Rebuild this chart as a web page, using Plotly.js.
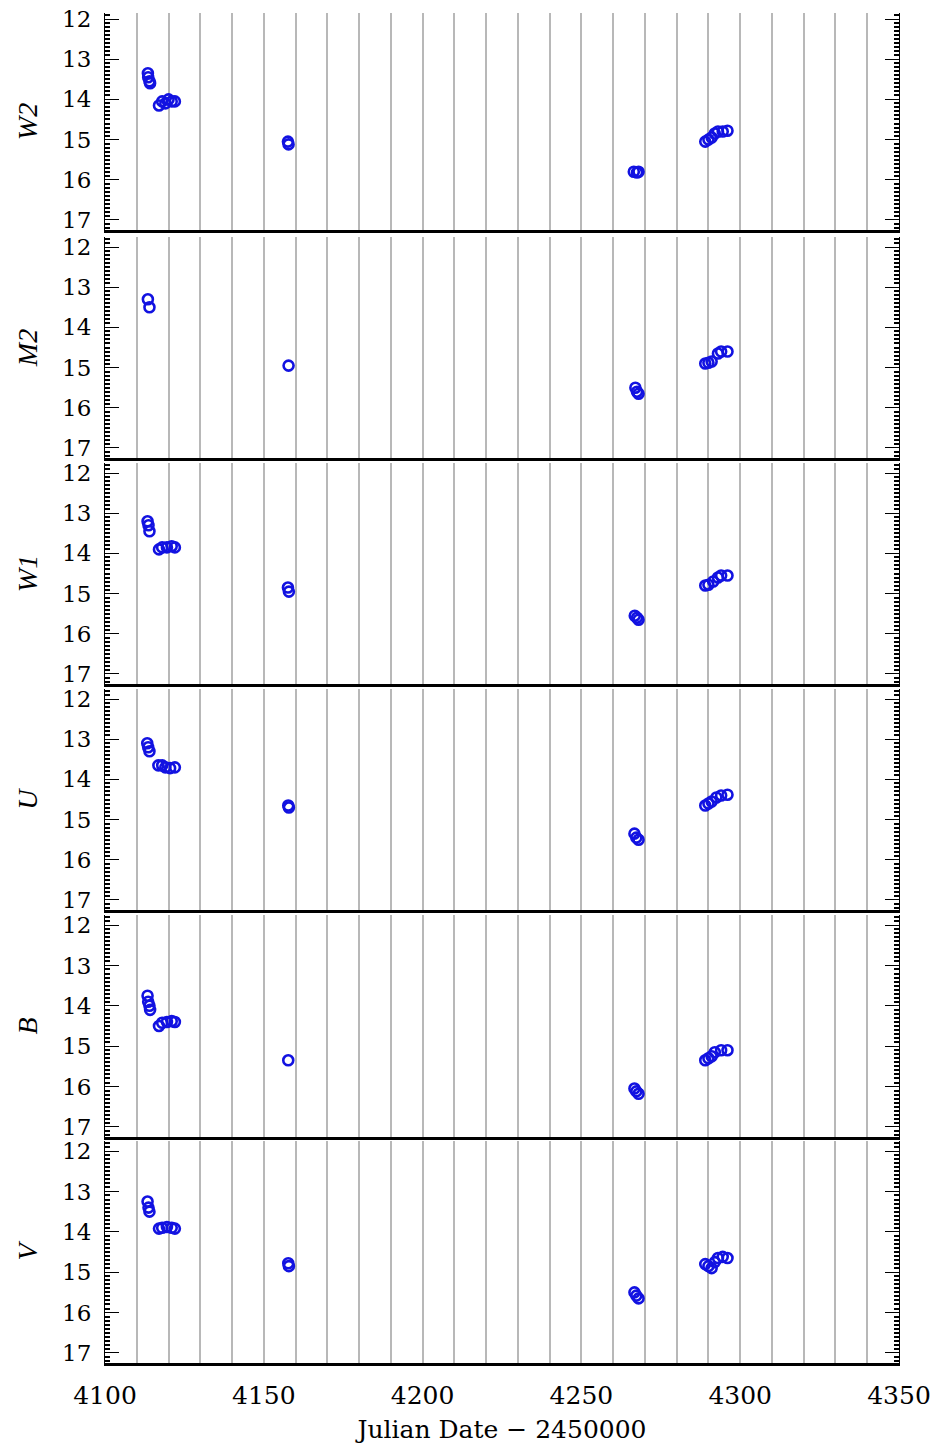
<!DOCTYPE html>
<html>
<head>
<meta charset="utf-8">
<script src="https://cdn.plot.ly/plotly-3.0.1.min.js"></script>
<style>html,body{margin:0;padding:0;background:#fff;}#chart{width:936px;height:1448px;}</style>
</head>
<body>
<div id="chart"></div>
<script>
// ---- data (Julian Date - 2450000, magnitude) ----
const bands = ["W2", "M2", "W1", "U", "B", "V"];

const w2_jd  = [4113.5, 4113.6, 4114.0, 4114.2, 4117.0, 4118.0, 4119.0, 4120.0, 4121.0, 4122.0, 4157.6, 4157.8, 4266.5, 4267.5, 4268.0, 4289.0, 4290.0, 4291.0, 4292.0, 4293.0, 4294.5, 4296.0];
const w2_mag = [13.35, 13.45, 13.55, 13.6, 14.15, 14.05, 14.1, 14.0, 14.05, 14.05, 15.05, 15.12, 15.8, 15.82, 15.8, 15.05, 15.0, 14.95, 14.85, 14.8, 14.8, 14.78];

const m2_jd  = [4113.5, 4114.0, 4157.8, 4267.0, 4267.5, 4268.0, 4289.0, 4290.0, 4291.0, 4293.0, 4294.0, 4296.0];
const m2_mag = [13.3, 13.5, 14.95, 15.5, 15.6, 15.65, 14.9, 14.88, 14.85, 14.65, 14.6, 14.6];

const w1_jd  = [4113.4, 4113.7, 4114.0, 4117.0, 4118.0, 4119.5, 4121.0, 4122.0, 4157.6, 4157.9, 4266.8, 4267.5, 4268.0, 4289.0, 4290.0, 4291.5, 4293.0, 4294.0, 4296.0];
const w1_mag = [13.2, 13.3, 13.45, 13.9, 13.85, 13.85, 13.82, 13.85, 14.85, 14.95, 15.55, 15.6, 15.65, 14.8, 14.78, 14.7, 14.6, 14.55, 14.55];

const u_jd   = [4113.3, 4113.6, 4114.0, 4116.8, 4118.0, 4119.0, 4120.5, 4122.0, 4157.7, 4157.9, 4266.7, 4267.3, 4268.0, 4289.0, 4290.0, 4291.0, 4292.5, 4294.0, 4296.0];
const u_mag  = [13.1, 13.2, 13.3, 13.65, 13.65, 13.7, 13.72, 13.7, 14.65, 14.7, 15.35, 15.45, 15.5, 14.65, 14.6, 14.55, 14.45, 14.4, 14.38];

const b_jd   = [4113.4, 4113.6, 4114.0, 4114.2, 4117.0, 4118.0, 4119.5, 4121.0, 4122.0, 4157.7, 4266.7, 4267.3, 4268.0, 4289.0, 4290.0, 4291.0, 4292.0, 4294.0, 4296.0];
const b_mag  = [13.75, 13.9, 14.0, 14.1, 14.5, 14.42, 14.4, 14.38, 14.4, 15.35, 16.05, 16.12, 16.18, 15.35, 15.3, 15.25, 15.15, 15.1, 15.1];

const v_jd   = [4113.4, 4113.7, 4114.0, 4117.0, 4118.0, 4119.5, 4121.0, 4122.0, 4157.7, 4157.9, 4266.7, 4267.3, 4268.0, 4289.0, 4290.0, 4291.0, 4292.0, 4293.0, 4294.5, 4296.0];
const v_mag  = [13.25, 13.4, 13.5, 13.92, 13.9, 13.88, 13.9, 13.92, 14.78, 14.85, 15.5, 15.58, 15.65, 14.8, 14.85, 14.9, 14.75, 14.65, 14.62, 14.65];

const xTickVals = [4100, 4150, 4200, 4250, 4300, 4350];
const xTitle = "Julian Date \u2212 2450000";

const seriesJD  = [w2_jd, m2_jd, w1_jd, u_jd, b_jd, v_jd];
const seriesMag = [w2_mag, m2_mag, w1_mag, u_mag, b_mag, v_mag];

// ---- layout geometry ----
const W = 936, Hfig = 1448;
const mT = 0, mB = 85, mL = 105, mR = 37;
const plotH = Hfig - mT - mB;
const panelsPx = [[13, 230], [237, 458], [463, 684], [689, 910], [915, 1137], [1141, 1363]];
const yRanges = [[17.25, 11.85], [17.25, 11.75], [17.25, 11.75], [17.25, 11.75], [17.25, 11.75], [17.25, 11.75]];

const tickFont = {family: "DejaVu Serif", size: 23, color: "#000"};
const gridCol = "#b8b8b8";
const markColor = "rgb(18,18,225)";

const traces = [];
const layout = {
  width: W, height: Hfig,
  margin: {l: mL, r: mR, t: mT, b: mB},
  paper_bgcolor: "#fff", plot_bgcolor: "#fff",
  showlegend: false
};

for (let i = 0; i < 6; i++) {
  const n = i + 1;
  const xs = n === 1 ? "" : String(n);
  const top = panelsPx[i][0] - mT, bot = panelsPx[i][1] - mT;
  const dom = [(plotH - bot) / plotH, (plotH - top) / plotH];

  traces.push({
    x: seriesJD[i], y: seriesMag[i],
    xaxis: "x" + xs, yaxis: "y" + xs,
    type: "scatter", mode: "markers",
    marker: {symbol: "circle-open", size: 10, color: markColor, line: {width: 2.6, color: markColor}},
    hoverinfo: "x+y"
  });

  layout["xaxis" + xs] = {
    domain: [0, 1], anchor: "y" + xs,
    range: [4100, 4350],
    tickvals: xTickVals,
    showticklabels: i === 5,
    ticks: "",
    tickfont: {family: "DejaVu Serif", size: 25, color: "#000"},
    ticklabelstandoff: 8,
    showline: true, linecolor: "#000", linewidth: 2.5, mirror: false,
    showgrid: true, gridcolor: gridCol, gridwidth: 2,
    minor: {dtick: 10, tick0: 4100, showgrid: true, gridcolor: gridCol, gridwidth: 2, ticks: ""},
    zeroline: false,
    title: i === 5 ? {text: xTitle, font: {family: "DejaVu Serif", size: 25, color: "#000"}, standoff: 12} : {text: ""}
  };
  if (i > 0) layout["xaxis" + xs].matches = "x";

  // top axis with short inside ticks
  if (i > 0) {
    const tn = String(6 + n);
    layout["xaxis" + tn] = {
      overlaying: "x" + xs, anchor: "y" + xs, side: "top",
      range: [4100, 4350],
      tick0: 4100, dtick: 50 / 15,
      ticks: "inside", ticklen: 5, tickwidth: 2, tickcolor: "#000",
      showticklabels: false, showgrid: false, zeroline: false,
      showline: true, linecolor: "#000", linewidth: 1
    };
  }

  layout["yaxis" + xs] = {
    domain: dom, anchor: "x" + xs,
    range: yRanges[i],
    tick0: 12, dtick: 1,
    ticks: "inside", ticklen: 14, tickwidth: 1, tickcolor: "#000",
    minor: {dtick: 0.1, ticks: "inside", ticklen: 5, tickwidth: 2, tickcolor: "#000", showgrid: false},
    mirror: "ticks",
    showline: true, linecolor: "#000", linewidth: 1,
    showgrid: false, zeroline: false,
    tickfont: tickFont,
    ticklabelstandoff: 8,
    title: {text: bands[i], font: {family: "Liberation Serif", size: 28, style: "italic", color: "#000"}, standoff: 16}
  };
}

Plotly.newPlot("chart", traces, layout, {displayModeBar: false, staticPlot: true});
</script>
</body>
</html>
